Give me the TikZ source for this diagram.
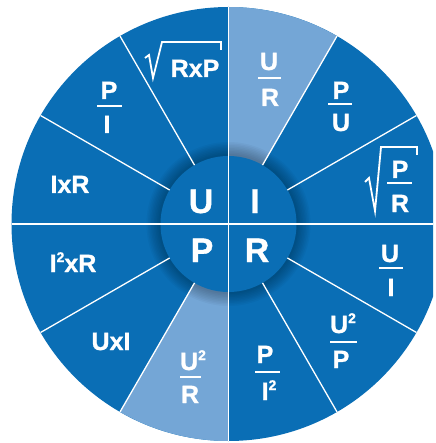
\documentclass[tikz,border=0pt]{standalone}
\usepackage{fontspec}
\setmainfont{Liberation Sans}[BoldFeatures={FakeBold=1}]
\usetikzlibrary{calc}
\definecolor{wheelblue}{HTML}{0A6EB5}
\definecolor{lightblue}{HTML}{74A6D6}
\newcommand\sqtwo{\raisebox{10pt}{\fontsize{14}{14}\selectfont 2}}
\begin{document}
\begin{tikzpicture}[x=1pt,y=1pt,
  lbl/.style={text=white, font=\bfseries\fontsize{25}{25}\selectfont, inner sep=0pt, anchor=base},
  big/.style={lbl, font=\bfseries\fontsize{34}{34}\selectfont},
  spoke/.style={white, line width=1.3pt},
  divider/.style={white, line width=1.8pt},
  fracbar/.style={white, line width=2.8pt},
  rootsign/.style={white, line width=1.8pt, line join=miter}]
\useasboundingbox (0,0) rectangle (435,-443);
\coordinate (C) at (228.5,-224);
\begin{scope}
  \clip (0,0) rectangle (433,-443);
  \fill[wheelblue] (C) circle (217);
  \fill[lightblue] (C) -- +(60:217) arc (60:90:217) -- cycle;
  \fill[lightblue] (C) -- +(240:217) arc (240:270:217) -- cycle;
  \foreach \r in {82,80.5,...,69} \fill[black, opacity=0.03] (C) circle (\r);
  \fill[wheelblue] (C) circle (68);
  \foreach \a in {30,60,120,150,210,240,300,330}
    \draw[spoke] ($(C)+(\a:68)$) -- ($(C)+(\a:217)$);
  \draw[divider] ($(C)+(0,217)$) -- ($(C)+(0,-217)$);
  \draw[divider] ($(C)+(-217,0)$) -- ($(C)+(217,0)$);
\end{scope}
% centre letters
\node[big] (cu) at (201,-213) {U};
\node[big] (ci) at (255,-213) {I};
\node[big] (cp) at (202,-262) {P};
\node[big] (cr) at (257,-262) {R};
% U quadrant
\node[lbl] (rxp) at (195,-77) {RxP};
\draw[rootsign] (145,-58) -- (149,-55) -- (153,-78) -- (162,-42) -- (221,-42) -- (221,-50);
\node[lbl] (pi1n) at (109,-99) {P};
\draw[fracbar] (97,-106) -- (122,-106);
\node[lbl] (pi1d) at (107,-133) {I};
\node[lbl] (ixr) at (70,-193) {IxR};
% I quadrant
\node[lbl] (urn) at (269,-70) {U};
\draw[fracbar] (258,-78) -- (281,-78);
\node[lbl] (urd) at (270,-106) {R};
\node[lbl] (pun) at (341,-99) {P};
\draw[fracbar] (328,-104) -- (352,-104);
\node[lbl] (pud) at (341,-131) {U};
\node[lbl] (prn) at (400,-178) {P};
\draw[fracbar] (387,-183) -- (412,-183);
\node[lbl] (prd) at (400,-212) {R};
\draw[rootsign] (365,-182) -- (369,-178) -- (375,-211) -- (381,-147) -- (417,-147) -- (417,-155);
% R quadrant
\node[lbl] (uin) at (390,-262) {U};
\draw[fracbar] (379,-268) -- (403,-268);
\node[lbl] (uid) at (391,-296) {I};
\node[lbl] (upn) at (343,-333) {U\sqtwo};
\draw[fracbar] (330,-342) -- (357,-342);
\node[lbl] (upd) at (341,-368) {P};
\node[lbl] (pin) at (265,-363) {P};
\draw[fracbar] (255,-372) -- (280,-372);
\node[lbl] (pid) at (269,-400) {I\sqtwo};
% P quadrant
\node[lbl] (iixr) at (73,-272) {I\sqtwo xR};
\node[lbl] (uxi) at (111,-350) {UxI};
\node[lbl] (urrn) at (193,-370) {U\sqtwo};
\draw[fracbar] (180,-377) -- (201,-377);
\node[lbl] (urrd) at (190,-403) {R};
\end{tikzpicture}
\end{document}
